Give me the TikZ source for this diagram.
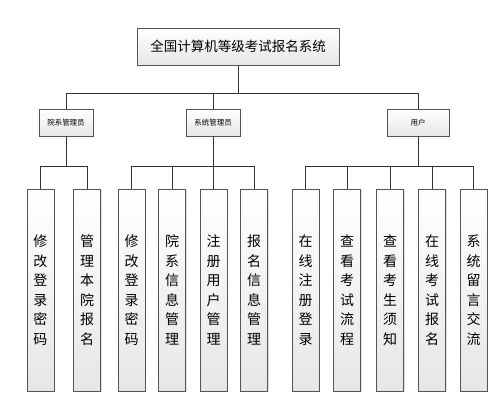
\documentclass[tikz,border=0pt]{standalone}
\usepackage{fontspec}
\newfontfamily\cjk{Noto Sans CJK SC}
\usetikzlibrary{positioning, shadows}
\definecolor{rahmen}{HTML}{555555}
\definecolor{verlauf}{HTML}{E6E6E6}

\begin{document}
\begin{tikzpicture}[x=1pt, y=-1pt,
        box/.style={draw=rahmen, top color=white, bottom color=verlauf, inner sep=0pt,
            drop shadow={shadow xshift=1.2pt, shadow yshift=-1.2pt, fill=black!25}},
        haupt/.style={box, minimum width=202pt, minimum height=37pt, font=\cjk\fontsize{13.5}{15}\selectfont},
        rolle/.style={box, minimum width=54pt, minimum height=27pt, font=\cjk\fontsize{7.5}{9}\selectfont},
        blatt/.style={box, minimum width=27pt, minimum height=202pt, text width=27pt, align=center,
            font=\cjk\fontsize{14}{19.5}\selectfont},
        rel/.style={draw=black!80, line width=0.7pt}
    ]
        \useasboundingbox (0,0) rectangle (499,416);
        % Hauptknoten
        \node[haupt] (sys) at (238,46.5) {全国计算机等级考试报名系统};
        % Rollen
        \node[rolle] (yx) at (66,122.5) {院系管理员};
        \node[rolle] (xt) at (213,122.5) {系统管理员};
        \node[rolle, minimum width=62pt] (yh) at (418,122.5) {用户};
        % Funktionen
        \node[blatt] (a1) at (40.5,290) {修\\改\\登\\录\\密\\码};
        \node[blatt] (a2) at (87,290) {管\\理\\本\\院\\报\\名};
        \node[blatt] (b1) at (131.5,290) {修\\改\\登\\录\\密\\码};
        \node[blatt] (b2) at (172,290) {院\\系\\信\\息\\管\\理};
        \node[blatt] (b3) at (213.5,290) {注\\册\\用\\户\\管\\理};
        \node[blatt] (b4) at (254,290) {报\\名\\信\\息\\管\\理};
        \node[blatt] (c1) at (305.5,290) {在\\线\\注\\册\\登\\录};
        \node[blatt] (c2) at (347,290) {查\\看\\考\\试\\流\\程};
        \node[blatt] (c3) at (390,290) {查\\看\\考\\生\\须\\知};
        \node[blatt] (c4) at (432,290) {在\\线\\考\\试\\报\\名};
        \node[blatt] (c5) at (473.5,290) {系\\统\\留\\言\\交\\流};
        % Verbindungen
        \foreach \z in {yx,xt,yh} \draw[rel] (sys.south) -- ++(0,28) -| (\z.north);
        \foreach \z in {a1,a2} \draw[rel] (yx.south) -- ++(0,30) -| (\z.north);
        \foreach \z in {b1,b2,b3,b4} \draw[rel] (xt.south) -- ++(0,30) -| (\z.north);
        \foreach \z in {c1,c2,c3,c4,c5} \draw[rel] (yh.south) -- ++(0,30) -| (\z.north);
    \end{tikzpicture}
\end{document}
